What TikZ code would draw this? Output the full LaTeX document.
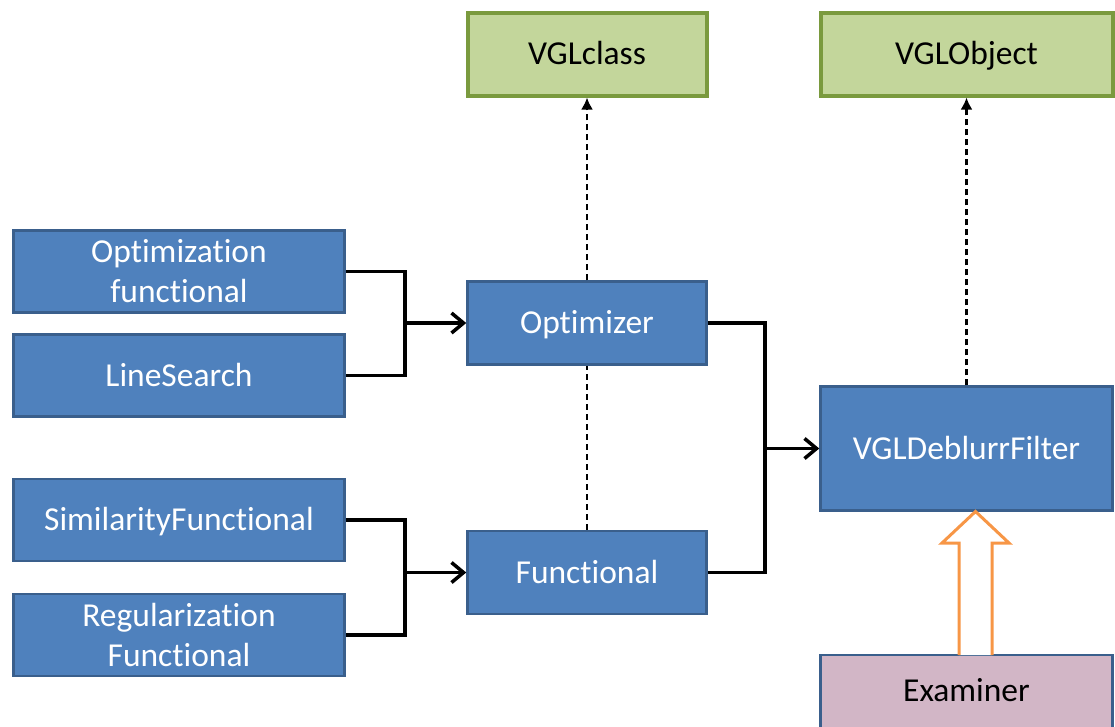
\documentclass[tikz,border=0pt]{standalone}
\usepackage{fontspec}
\setmainfont[Ligatures=NoCommon]{Carlito}
\usetikzlibrary{arrows.meta}
\definecolor{boxblue}{HTML}{4F81BD}
\definecolor{edgeblue}{HTML}{3A5F8C}
\definecolor{boxgreen}{HTML}{C3D69B}
\definecolor{edgegreen}{HTML}{7A9A3E}
\definecolor{boxmauve}{HTML}{D2B6C6}
\definecolor{hollowor}{HTML}{F79646}
% strut that centres a single line of text in its box
\newcommand\capstrut{\rule[-6pt]{0pt}{33pt}}
\begin{document}
\begin{tikzpicture}[x=1pt,y=-1pt,
  txt/.style={font=\fontsize{33.5}{40}\selectfont, align=center, inner sep=0pt},
  blk/.style={txt, draw=edgeblue, line width=2.5pt, fill=boxblue, text=white},
  grn/.style={txt, draw=edgegreen, line width=4pt, fill=boxgreen, text=black},
  mauve/.style={txt, draw=edgeblue, line width=2.5pt, fill=boxmauve, text=black},
  leftbox/.style={minimum width=331pt, minimum height=82pt},
  midbox/.style={minimum width=239pt, minimum height=83pt},
  rightbox/.style={minimum width=292pt},
  wire/.style={line width=3.5pt, line join=miter},
  feed/.style={wire, -{Straight Barb[length=12pt,width=20pt,line width=3.5pt]}},
  inherit/.style={line width=2.5pt, dash pattern=on 6pt off 4pt, -{Latex[length=12pt,width=12pt]}},
  plain dash/.style={line width=2.5pt, dash pattern=on 6pt off 4pt}]
\useasboundingbox (0,0) rectangle (1115,726);
\clip (0,0) rectangle (1115,726);

% base classes
\node[grn, midbox] (vglclass) at (587,54) {\capstrut VGLclass};
\node[grn, rightbox, minimum height=83pt] (vglobject) at (966.5,54) {\capstrut VGLObject};

% input components
\node[blk, leftbox] (optfun) at (179,271.5) {Optimization\\functional};
\node[blk, leftbox] (linesearch) at (179,375.5) {\capstrut LineSearch};
\node[blk, leftbox] (similarity) at (179,520) {\capstrut SimilarityFunctional};
\node[blk, leftbox] (regular) at (179,635) {Regularization\\Functional};

% core objects
\node[blk, midbox] (optimizer) at (587,323) {\capstrut Optimizer};
\node[blk, midbox] (functional) at (587,572.5) {\capstrut Functional};
\node[blk, rightbox, minimum height=124pt] (deblurr) at (966.5,448.5) {\capstrut VGLDeblurrFilter};
\node[mauve, rightbox, minimum height=90pt] (examiner) at (966.5,700) {};
\node[txt, text=black] (examtext) at (966.5,691) {\capstrut Examiner};

% junction points
\coordinate (j1) at (405,323);
\coordinate (j2) at (405,572.5);
\coordinate (j3) at (765,448.5);

% composition wiring
\draw[wire] (optfun.east) -| (j1) |- (linesearch.east);
\draw[feed] (j1) -- (optimizer.west);
\draw[wire] (similarity.east) -| (j2) |- (regular.east);
\draw[feed] (j2) -- (functional.west);
\draw[wire] (optimizer.east) -| (j3) |- (functional.east);
\draw[feed] (j3) -- (deblurr.west);

% inheritance
\draw[plain dash] (functional.north) -- (optimizer.south);
\draw[inherit] (optimizer.north) -- (vglclass.south);
\draw[inherit] (deblurr.north) -- (vglobject.south);

% hollow block arrow from the examiner
\draw[hollowor, line width=3pt, fill=white, line join=miter]
  (959,655) -- (959,543) -- (942,543) -- (975.5,511.5) -- (1009,543) -- (992,543) -- (992,655);
\end{tikzpicture}
\end{document}
